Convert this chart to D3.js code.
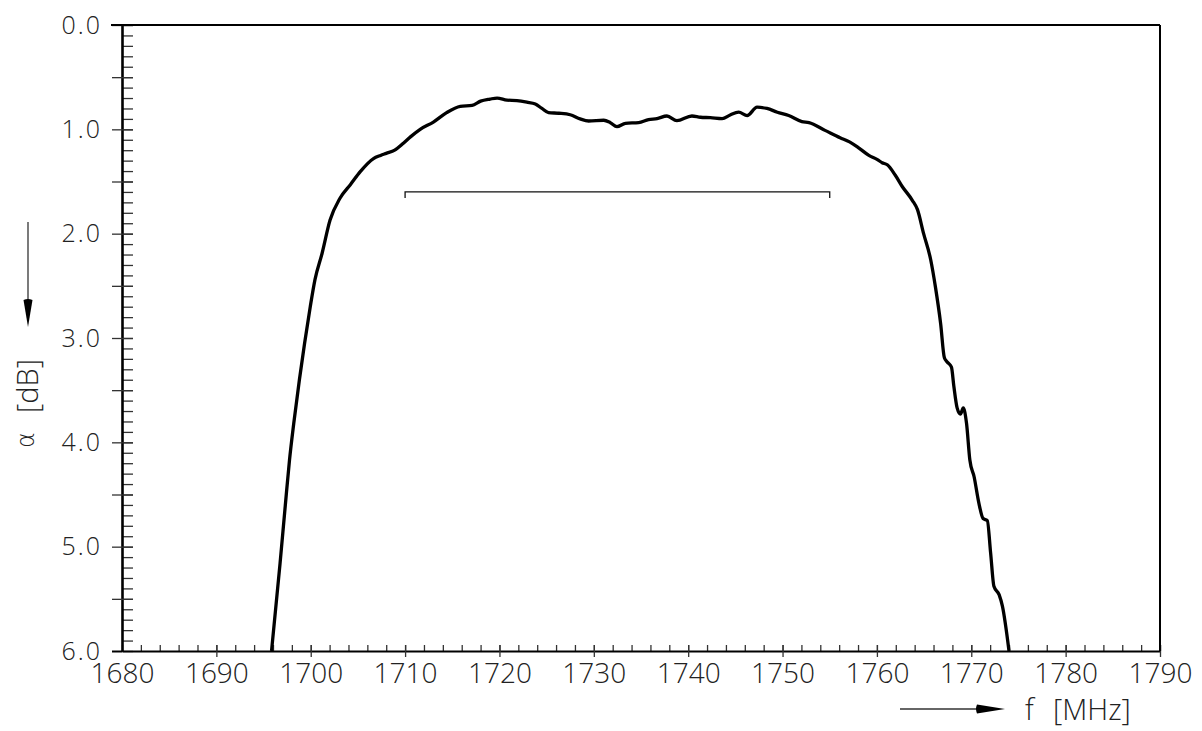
<!DOCTYPE html>
<html>
<head>
<meta charset="utf-8">
<script src="https://cdn.jsdelivr.net/npm/d3@7"></script>
<style>
  body { margin: 0; background: #fff; }
  text { font-family: "Open Sans", Roboto, sans-serif; font-weight: 300; fill: #222; }
</style>
</head>
<body>
<div id="chart"></div>
<script>
var freqMHz = [
  1695.85, 1696.75, 1697.3, 1697.75, 1698.2, 1698.8, 1699.35, 1699.95, 1700.45, 1701.2,
  1702.05, 1703.1, 1704.2, 1705.25, 1706.65, 1707.4, 1708.0, 1708.9, 1709.85, 1710.6,
  1711.6, 1713.0, 1714.4, 1715.85, 1717.1, 1718.0, 1719.0, 1719.75, 1720.8, 1721.85,
  1722.9, 1723.8, 1724.5, 1725.2, 1726.3, 1727.5, 1728.55, 1729.45, 1731.05, 1731.75,
  1732.45, 1733.35, 1734.75, 1735.8, 1736.7, 1737.75, 1738.8, 1740.4, 1741.3, 1742.35,
  1743.6, 1744.45, 1745.35, 1746.25, 1747.3, 1748.35, 1749.45, 1750.65, 1752.05, 1752.8,
  1754.5, 1756.1, 1757.1, 1758.1, 1759.15, 1760.05, 1760.55, 1761.1, 1761.95, 1762.7,
  1763.75, 1764.3, 1764.95, 1765.7, 1766.2, 1766.75, 1767.15, 1767.45, 1767.9, 1768.15,
  1768.5, 1768.85, 1769.15, 1769.5, 1769.85, 1770.3, 1770.8, 1771.25, 1771.7, 1772.05,
  1772.4, 1772.95, 1773.3, 1774.0
];
var attenDb = [
  6.0, 5.16, 4.61, 4.17, 3.82, 3.40, 3.05, 2.70, 2.44, 2.19,
  1.87, 1.66, 1.53, 1.405, 1.28, 1.25, 1.23, 1.20, 1.13, 1.07,
  1.0, 0.93, 0.84, 0.78, 0.77, 0.73, 0.71, 0.70, 0.72, 0.725,
  0.74, 0.757, 0.80, 0.84, 0.846, 0.86, 0.90, 0.92, 0.913, 0.936,
  0.974, 0.942, 0.936, 0.907, 0.897, 0.872, 0.917, 0.872, 0.884, 0.888,
  0.897, 0.862, 0.836, 0.868, 0.788, 0.80, 0.836, 0.868, 0.926, 0.936,
  1.01, 1.08, 1.12, 1.18, 1.25, 1.29, 1.32, 1.34, 1.44, 1.55,
  1.68, 1.77, 2.0, 2.25, 2.51, 2.86, 3.19, 3.23, 3.28, 3.46,
  3.67, 3.73, 3.67, 3.82, 4.17, 4.33, 4.58, 4.73, 4.75, 5.06,
  5.38, 5.46, 5.57, 6.0
];
// passband marker: 1710..1755 MHz at 1.6 dB
var passband = [1710, 1755];
var passbandLevel = 1.6;

var xTicksMajor = d3.range(1680, 1791, 10);
var xTicksMinor = d3.range(1680, 1791, 2);
var yTicksMajor = d3.range(0, 6.01, 0.5);
var yTicksMinor = d3.range(0, 6.01, 0.1);

var margin = {top: 25, left: 122},
    width = 1038,
    height = 626;

var svg = d3.select("#chart").append("svg")
    .attr("width", 1202)
    .attr("height", 731);

var g = svg.append("g")
    .attr("transform", "translate(" + margin.left + "," + margin.top + ")");

var x = d3.scaleLinear().domain([1680, 1790]).range([0, width]);
var y = d3.scaleLinear().domain([0, 6]).range([0, height]);

// minor ticks pointing inward
g.append("g")
    .attr("class", "minor")
    .call(d3.axisRight(y).tickValues(yTicksMinor).tickSize(11).tickFormat(""));
g.append("g")
    .attr("class", "minor")
    .attr("transform", "translate(0," + height + ")")
    .call(d3.axisTop(x).tickValues(xTicksMinor).tickSize(6).tickFormat(""));

// major ticks + labels
var yAxis = g.append("g")
    .attr("class", "major y")
    .call(d3.axisLeft(y).tickValues(yTicksMajor).tickSize(10).tickSizeOuter(0).tickPadding(10)
        .tickFormat(function (d) {
            return Math.abs(d - Math.round(d)) < 1e-6 ? d3.format(".1f")(d) : "";
        }));
var xAxis = g.append("g")
    .attr("class", "major x")
    .attr("transform", "translate(0," + height + ")")
    .call(d3.axisBottom(x).tickValues(xTicksMajor).tickSize(6).tickSizeOuter(0).tickPadding(6)
        .tickFormat(d3.format("d")));

// major ticks on y cross the axis
yAxis.selectAll(".tick line").attr("x2", -10).attr("x1", 11);
xAxis.selectAll(".tick line").attr("y1", -6);

g.selectAll(".minor .domain").remove();
g.selectAll(".tick line").attr("stroke", "#333").attr("stroke-width", 1.3);
g.selectAll(".major text").attr("fill", "#222")
    .style("font-family", "\"Open Sans\", Roboto, sans-serif").style("font-weight", 300);
yAxis.selectAll("text").style("font-size", "25px").style("letter-spacing", "2px");
xAxis.selectAll("text").style("font-size", "28px");
yAxis.select(".domain").attr("stroke", "#000").attr("stroke-width", 2.6);
xAxis.select(".domain").attr("stroke", "#000").attr("stroke-width", 2);
xAxis.select(".tick line").remove();
yAxis.selectAll(".tick").filter(function (d) { return d === 6; }).select("line")
    .attr("x1", 0).attr("stroke", "#000").attr("stroke-width", 2);

// frame: top and right
g.append("line")
    .attr("x1", -11).attr("x2", width)
    .attr("y1", y(0)).attr("y2", y(0))
    .attr("stroke", "#000").attr("stroke-width", 2);
g.append("line")
    .attr("x1", width).attr("x2", width)
    .attr("y1", 0).attr("y2", height)
    .attr("stroke", "#000").attr("stroke-width", 2);

// passband bracket
g.append("path")
    .attr("d", "M" + x(passband[0]) + "," + (y(passbandLevel) + 6) +
        "V" + y(passbandLevel) + "H" + x(passband[1]) + "V" + (y(passbandLevel) + 6))
    .attr("fill", "none")
    .attr("stroke", "#111")
    .attr("stroke-width", 1.3);

// curve
var line = d3.line()
    .curve(d3.curveMonotoneX)
    .x(function (d) { return x(d); })
    .y(function (d, i) { return y(attenDb[i]); });

g.append("path")
    .datum(freqMHz)
    .attr("d", line)
    .attr("fill", "none")
    .attr("stroke", "#000")
    .attr("stroke-width", 3.3)
    .attr("stroke-linejoin", "round");

// x axis label with arrow
svg.append("line")
    .attr("x1", 900).attr("x2", 978).attr("y1", 709).attr("y2", 709)
    .attr("stroke", "#333").attr("stroke-width", 1.3);
svg.append("path")
    .attr("d", "M977,704.5 L1005,709 L977,713.5 Q975,709 977,704.5 Z")
    .attr("fill", "#000");
svg.append("text")
    .attr("x", 1025).attr("y", 720)
    .style("font-size", "29px")
    .text("f");
svg.append("text")
    .attr("x", 1053).attr("y", 720)
    .style("font-size", "29px")
    .text("[MHz]");

// y axis label with arrow
svg.append("line")
    .attr("x1", 28).attr("x2", 28).attr("y1", 222).attr("y2", 301)
    .attr("stroke", "#333").attr("stroke-width", 1.3);
svg.append("path")
    .attr("d", "M23.5,300 L28,327 L32.5,300 Q28,298 23.5,300 Z")
    .attr("fill", "#000");
svg.append("text")
    .attr("transform", "translate(34,448) rotate(-90)")
    .style("font-family", "\"DejaVu Sans\", sans-serif")
    .style("font-size", "24px")
    .text("\u03b1");
svg.append("text")
    .attr("transform", "translate(38,413) rotate(-90)")
    .style("font-size", "29px")
    .text("[dB]");
</script>
</body>
</html>
